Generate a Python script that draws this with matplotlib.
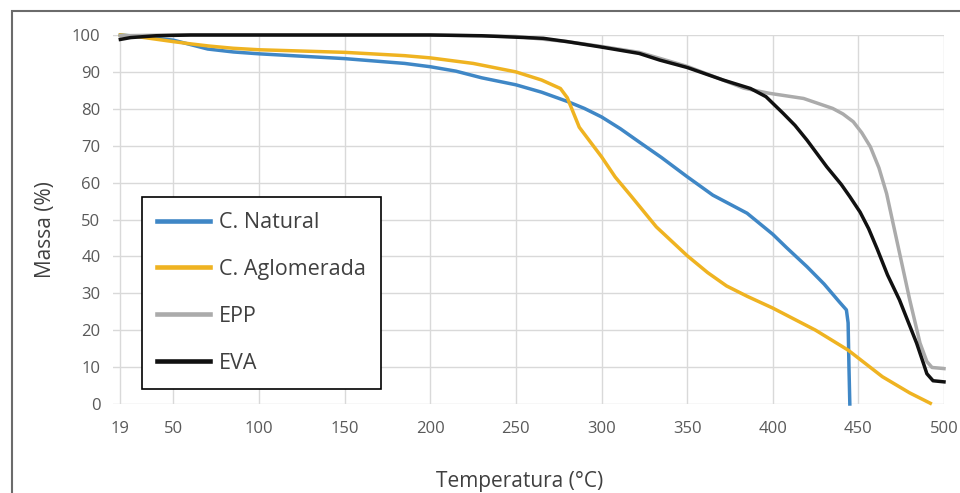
import matplotlib
matplotlib.use('Agg')
import matplotlib.pyplot as plt
from matplotlib.patches import Rectangle

plt.rcParams['font.family'] = ['Open Sans', 'DejaVu Sans']

# TGA curves (temperature in C, mass in %)
temp_natural = [19, 30, 50, 60, 70, 85, 100, 150, 185, 200, 215, 230, 250, 265, 280, 290, 300,
                311, 322, 335, 350, 365, 385, 400, 408, 420, 430, 439, 443, 444, 444.5, 445]
mass_natural = [100, 99.6, 98.6, 97.4, 96.2, 95.4, 94.9, 93.6, 92.3, 91.4, 90.2, 88.4, 86.5, 84.5, 82, 80.1, 77.8,
                74.6, 71, 66.8, 61.6, 56.6, 51.7, 46, 42.4, 37.2, 32.5, 27.6, 25.5, 22, 10, 0]

temp_aglom = [19, 30, 50, 60, 71, 85, 100, 150, 185, 200, 225, 250, 265, 276, 280, 287, 300,
              308, 317, 332, 350, 362, 373, 385, 400, 425, 444, 464, 480, 492]
mass_aglom = [100, 99.5, 98.2, 97.6, 97, 96.4, 96, 95.3, 94.4, 93.8, 92.3, 90, 87.8, 85.5, 83, 75, 67,
              61.5, 56.5, 48, 40.2, 35.6, 32, 29.2, 26, 20, 14.6, 7.4, 3, 0.2]

temp_epp = [19, 50, 100, 200, 250, 280, 300, 322, 350, 367, 383, 398, 418, 435, 441, 447,
            452, 457, 462, 466.5, 470, 474, 480, 486, 490, 493, 500]
mass_epp = [99.8, 100, 100, 100, 99.6, 98.2, 96.9, 95.3, 91.5, 88.5, 85.6, 84.2, 82.8, 80.1, 78.6, 76.5,
            73.5, 69.7, 64, 57, 49.5, 41, 28.2, 16.5, 11.5, 9.9, 9.6]

temp_eva = [19, 25, 40, 60, 200, 230, 266, 280, 299, 322, 334, 350, 371, 387, 396,
            406, 413, 420, 431.5, 440, 445, 451, 456, 461, 467, 474, 484, 488, 490, 493.6, 500]
mass_eva = [98.8, 99.3, 99.8, 100, 100, 99.8, 99.1, 98.2, 96.8, 95, 93.2, 91.2, 87.8, 85.5, 83.3,
            78.8, 75.5, 71.5, 64.3, 59.5, 56.2, 52, 47.5, 42, 35, 28.2, 16.5, 11, 8.2, 6.3, 6.0]

xticks = [19, 50, 100, 150, 200, 250, 300, 350, 400, 450, 500]
yticks = [0, 10, 20, 30, 40, 50, 60, 70, 80, 90, 100]

W, H = 960, 493
fig = plt.figure(figsize=(9.6, 4.93), dpi=100)

# chart border (only top and left visible in the original)
fig.patches.append(Rectangle((12 / W, -0.1), 1.2, 1 - 11 / H + 0.1, transform=fig.transFigure,
                             fill=False, edgecolor='#6b6b6b', linewidth=1.5))

ax = fig.add_axes([113 / W, 1 - 404 / H, (944 - 113) / W, (404 - 35) / H])

lw = 2.5
ax.plot(temp_natural, mass_natural, color='#3f87c6', lw=lw, label='C. Natural', clip_on=False)
ax.plot(temp_aglom, mass_aglom, color='#efb321', lw=lw, label='C. Aglomerada', clip_on=False)
ax.plot(temp_epp, mass_epp, color='#ababab', lw=lw, label='EPP', clip_on=False)
ax.plot(temp_eva, mass_eva, color='#111111', lw=lw, label='EVA', clip_on=False)

ax.set_xlim(14.7, 500)
ax.set_ylim(0, 100)
ax.set_xticks(xticks)
ax.set_yticks(yticks)
ax.grid(True, color='#d9d9d9', linewidth=1)
ax.set_axisbelow(True)
for s in ax.spines.values():
    s.set_visible(False)
ax.tick_params(length=0, labelsize=12, labelcolor='#595959')
ax.tick_params(axis='y', pad=9)
ax.tick_params(axis='x', pad=12)

fig.text(45 / W, 1 - 230 / H, 'Massa (%)', rotation=90, ha='center', va='center',
         fontsize=15, color='#404040')
fig.text(519.5 / W, 1 - 486.7 / H, 'Temperatura (°C)', ha='center', va='baseline',
         fontsize=15, color='#404040')

leg = ax.legend(loc='upper left', bbox_to_anchor=(141.7 / W, 1 - 197 / H),
                bbox_transform=fig.transFigure, borderaxespad=0, fontsize=15.5,
                handlelength=2.45, handletextpad=0.45, borderpad=0.7, labelspacing=1.2,
                fancybox=False, framealpha=1, edgecolor='black')
leg.get_frame().set_linewidth(1.2)
for line in leg.get_lines():
    line.set_linewidth(3.3)
for t in leg.get_texts():
    t.set_color('#404040')

fig.savefig('out.png', dpi=100)
